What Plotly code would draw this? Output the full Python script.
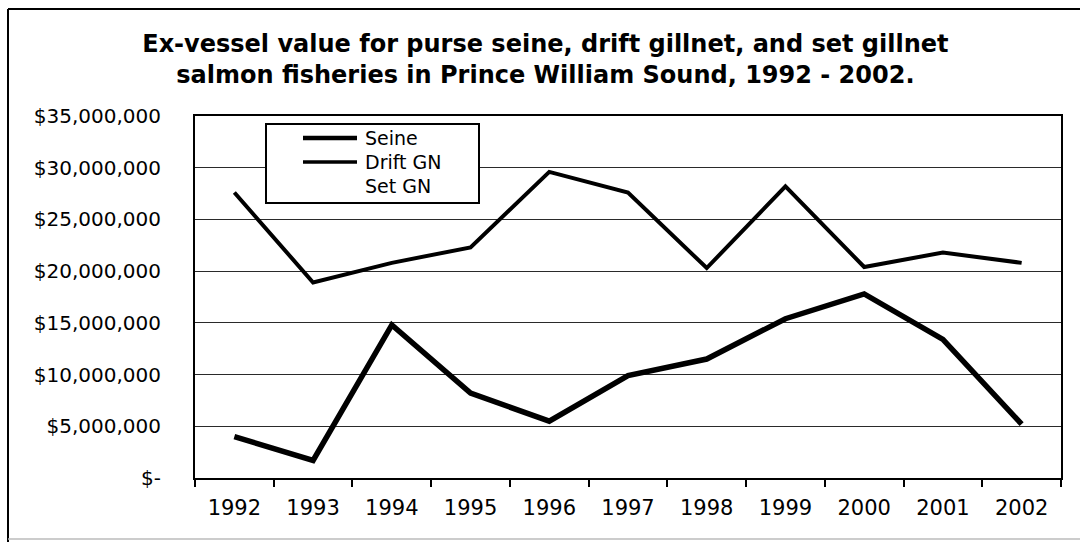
import plotly.graph_objects as go

# Ex-vessel value by gear type, Prince William Sound salmon fisheries
years = ["1992", "1993", "1994", "1995", "1996", "1997",
         "1998", "1999", "2000", "2001", "2002"]
seine = [4.0e6, 1.7e6, 14.8e6, 8.2e6, 5.5e6, 9.9e6,
         11.5e6, 15.4e6, 17.8e6, 13.4e6, 5.2e6]
drift_gn = [27.6e6, 18.9e6, 20.8e6, 22.3e6, 29.6e6, 27.6e6,
            20.3e6, 28.2e6, 20.4e6, 21.8e6, 20.8e6]
set_gn = [0.35e6, 0.05e6, 0.4e6, 0.1e6, 0.35e6, 0.4e6,
          0.05e6, 0.35e6, 0.3e6, 0.35e6, 0.3e6]

series_names = ["Seine", "Drift GN", "Set GN"]
series_values = [seine, drift_gn, set_gn]
series_colors = ["black", "black", "white"]
series_widths = [5.5, 4, 2]

y_tickvals = [0, 5e6, 10e6, 15e6, 20e6, 25e6, 30e6, 35e6]
y_ticktext = ["$-", "$5,000,000", "$10,000,000", "$15,000,000",
              "$20,000,000", "$25,000,000", "$30,000,000", "$35,000,000"]

FONT = "DejaVu Sans"
W, H = 1080, 542
M_L, M_R, M_T, M_B = 195, 19, 116, 64
PW, PH = W - M_L - M_R, H - M_T - M_B


def px(x):
    """Page pixel column -> paper x."""
    return (x - M_L) / PW


def py(y):
    """Page pixel row -> paper y."""
    return (H - M_B - y) / PH


fig = go.Figure()
for name, vals, col, lw in zip(series_names, series_values,
                               series_colors, series_widths):
    fig.add_trace(go.Scatter(x=years, y=vals, name=name, mode="lines",
                             line=dict(color=col, width=lw),
                             showlegend=False))

# boxed key in the upper-left of the plot
fig.add_shape(type="rect", xref="paper", yref="paper",
              x0=px(266), x1=px(479), y0=py(203), y1=py(124),
              line=dict(color="black", width=2), fillcolor="white",
              layer="above")
key_widths = [4.5, 3.5, 2]
for i, (name, col, lw) in enumerate(zip(series_names, series_colors,
                                        key_widths)):
    row = 138 + 24 * i
    fig.add_shape(type="line", xref="paper", yref="paper",
                  x0=px(303), x1=px(357), y0=py(row), y1=py(row),
                  line=dict(color=col, width=lw), layer="above")
    fig.add_annotation(x=px(363), y=py(row), xref="paper", yref="paper",
                       text=name, showarrow=False, xanchor="left",
                       yanchor="middle",
                       font=dict(family=FONT, size=19, color="black"))

# outer frame of the chart page
frame = dict(type="line", xref="paper", yref="paper", layer="above")
fig.add_shape(**frame, x0=px(8), x1=px(1090), y0=py(9), y1=py(9),
              line=dict(color="black", width=2))
fig.add_shape(**frame, x0=px(8), x1=px(8), y0=py(9), y1=py(545),
              line=dict(color="black", width=2))
fig.add_shape(**frame, x0=px(8), x1=px(1090), y0=py(539), y1=py(539),
              line=dict(color="#bbbbbb", width=1.5))

fig.update_layout(
    width=W, height=H,
    margin=dict(l=M_L, r=M_R, t=M_T, b=M_B),
    paper_bgcolor="white", plot_bgcolor="white",
    font=dict(family=FONT, color="black", size=20),
    title=dict(
        text="Ex-vessel value for purse seine, drift gillnet, and set gillnet"
             "<br>salmon fisheries in Prince William Sound, 1992 - 2002.",
        font=dict(family=FONT, size=24, color="black", weight="bold"),
        x=0.505, xref="container", xanchor="center",
        y=0.904, yref="container", yanchor="top",
    ),
    showlegend=False,
)

fig.update_xaxes(
    type="category", range=[-0.5, 10.5],
    showline=True, mirror=True, linecolor="black",
    linewidth=2, ticks="outside", tickson="boundaries", ticklen=7,
    tickwidth=2, tickcolor="black", showgrid=False, layer="below traces",
    ticklabelstandoff=10,
    tickfont=dict(family=FONT, size=21, color="black"),
)
fig.update_yaxes(
    range=[0, 35e6], tickvals=y_tickvals, ticktext=y_ticktext,
    showline=True, mirror=True, linecolor="black", linewidth=2,
    showgrid=True, gridcolor="#2a2a2a", gridwidth=1.2, zeroline=False,
    ticks="", ticklabelstandoff=28, layer="below traces",
    tickfont=dict(family=FONT, size=20, color="black"),
)

fig.write_html("out.html")
